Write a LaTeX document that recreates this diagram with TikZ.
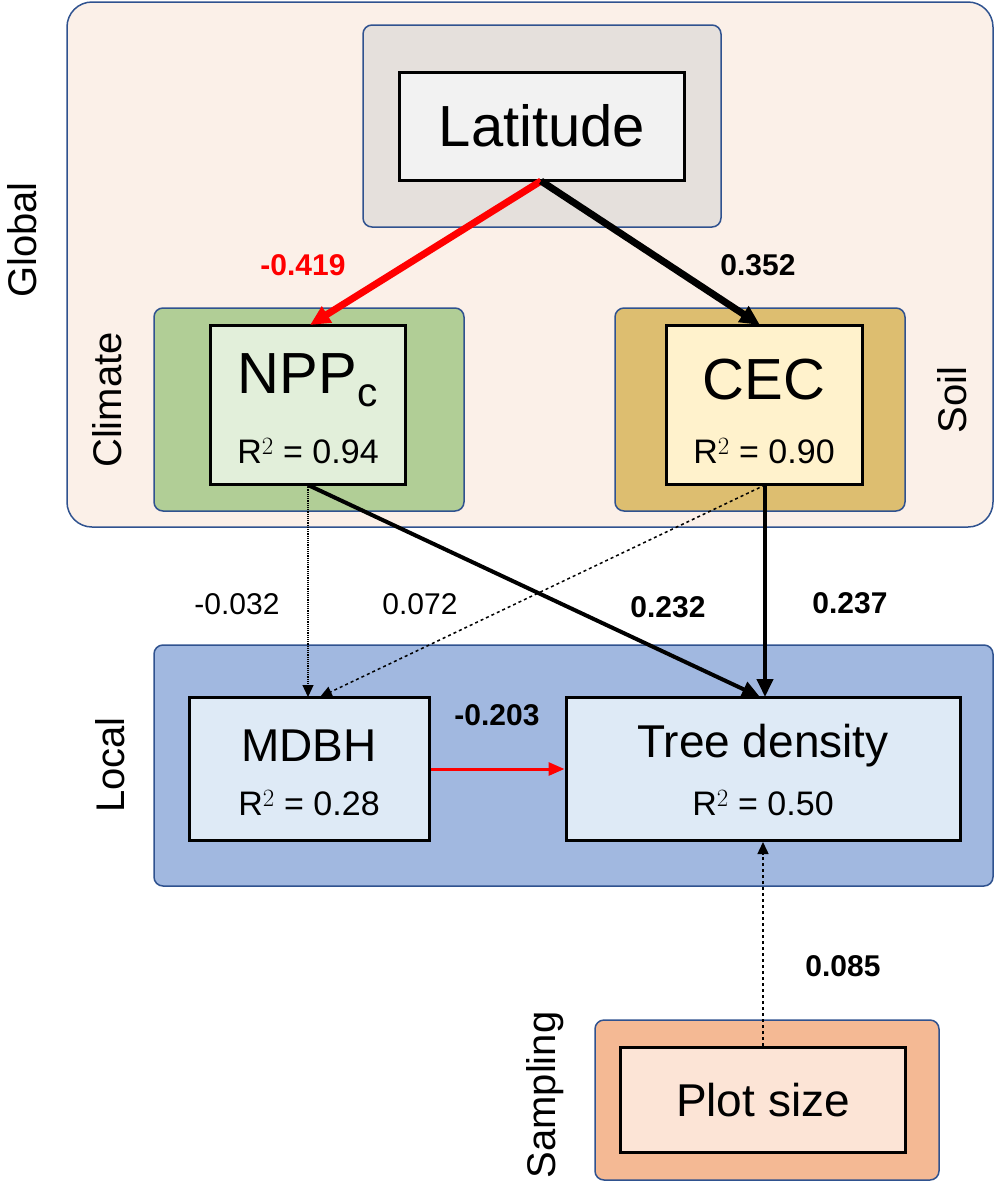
\documentclass[tikz,border=0pt]{standalone}
\usepackage{fontspec}
\setmainfont{Liberation Sans}
\usetikzlibrary{arrows.meta}
\definecolor{bord}{RGB}{47,82,143}
\definecolor{peach}{RGB}{251,240,232}
\definecolor{latg}{RGB}{229,224,220}
\definecolor{latin}{RGB}{242,242,242}
\definecolor{clim}{RGB}{177,206,150}
\definecolor{climin}{RGB}{226,239,218}
\definecolor{soil}{RGB}{221,190,112}
\definecolor{soilin}{RGB}{255,242,204}
\definecolor{loc}{RGB}{161,184,224}
\definecolor{locin}{RGB}{222,234,246}
\definecolor{samp}{RGB}{244,185,148}
\definecolor{sampin}{RGB}{252,228,214}
\tikzset{
 grp/.style={draw=bord,line width=1.5pt,rounded corners=9pt},
 var/.style={draw=black,line width=3pt},
 side/.style={font=\fontsize{40}{44}\selectfont,rotate=90},
 coef/.style={font=\fontsize{30}{34}\selectfont},
 bcoef/.style={font=\bfseries\fontsize{30}{34}\selectfont},
 arr/.style={-{Triangle[length=20pt,width=18pt]}},
}
\begin{document}
\begin{tikzpicture}[x=1pt,y=-1pt]
\useasboundingbox (0,0) rectangle (995,1203);
\draw[grp,fill=peach,rounded corners=25pt] (67,2) rectangle (993,527);
\draw[grp,fill=latg] (363,25) rectangle (721,227);
\draw[grp,fill=clim] (154,308) rectangle (464,511);
\draw[grp,fill=soil] (615,308) rectangle (905,511);
\draw[grp,fill=loc] (154,645) rectangle (993,886);
\draw[grp,fill=samp] (595,1020) rectangle (939,1180);
\node[var,fill=latin,minimum width=285pt,minimum height=108pt,font=\fontsize{58}{60}\selectfont] (lat) at (542,126) {Latitude};
\node[var,fill=climin,minimum width=195pt,minimum height=159pt,inner sep=0pt] (npp) at (308,405) {};
\node[font=\fontsize{58}{60}\selectfont] (npptxt) at (308,380) {NPP$_{\mathrm{c}}$};
\node[font=\fontsize{34}{38}\selectfont] (nppr) at (308,451) {R$^2$ = 0.94};
\node[var,fill=soilin,minimum width=196pt,minimum height=159pt,inner sep=0pt] (cec) at (764,405) {};
\node[font=\fontsize{58}{60}\selectfont] (cectxt) at (764,380) {CEC};
\node[font=\fontsize{34}{38}\selectfont] (cecr) at (764,451) {R$^2$ = 0.90};
\node[var,fill=locin,minimum width=240pt,minimum height=143pt,inner sep=0pt] (mdbh) at (309,769) {};
\node[font=\fontsize{46}{50}\selectfont] (mdbhtxt) at (309,746) {MDBH};
\node[font=\fontsize{34}{38}\selectfont] (mdbhr) at (309,803) {R$^2$ = 0.28};
\node[var,fill=locin,minimum width=394pt,minimum height=143pt,inner sep=0pt] (td) at (763,769) {};
\node[font=\fontsize{46}{50}\selectfont] (tdtxt) at (763,746) {Tree density};
\node[font=\fontsize{34}{38}\selectfont] (tdr) at (763,803) {R$^2$ = 0.50};
\node[var,fill=sampin,minimum width=285pt,minimum height=105pt,font=\fontsize{46}{50}\selectfont] (plot) at (763,1100) {Plot size};
\node[side] (gl) at (22,240) {Global};
\node[side] (cl) at (107,400) {Climate};
\node[side] (sl) at (952,400) {Soil};
\node[side] (lc) at (110,765) {Local};
\node[side] (sa) at (545,1095) {Sampling};
\coordinate (latb) at (541,181);
\draw[arr,red,line width=7pt] (latb) -- (310,325);
\draw[arr,line width=7pt] (latb) -- (760,325);
\node[bcoef,red] (l1) at (303,265) {-0.419};
\node[bcoef] (l2) at (758,265) {0.352};
\draw[arr,densely dotted,line width=1.2pt,-{Triangle[length=12pt,width=11pt]}] (308,485) -- (308,697);
\draw[dashed,line width=1.5pt,-{Triangle[length=12pt,width=11pt]}] (765,485) -- (320,697);
\draw[line width=4pt,-{Triangle[length=18pt,width=16pt]}] (308,485) -- (760,697);
\draw[line width=4pt,-{Triangle[length=18pt,width=16pt]}] (765,485) -- (765,697);
\draw[red,line width=3pt,-{Triangle[length=16pt,width=13pt]}] (mdbh.east) -- (td.west);
\draw[dashed,line width=1.5pt,-{Triangle[length=12pt,width=11pt]}] (plot.north) -- (td.south);
\node[coef] (c1) at (237,604) {-0.032};
\node[coef] (c2) at (420,604) {0.072};
\node[bcoef] (c3) at (668,607) {0.232};
\node[bcoef] (c4) at (850,603) {0.237};
\node[bcoef] (c5) at (497,715) {-0.203};
\node[bcoef] (c6) at (843,966) {0.085};
\end{tikzpicture}
\end{document}
